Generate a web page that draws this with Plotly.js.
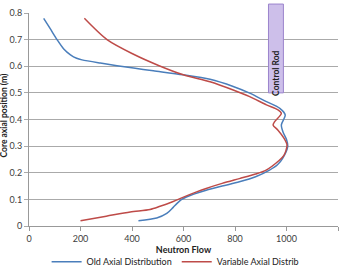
<!DOCTYPE html>
<html>
<head>
<meta charset="utf-8">
<script src="https://cdn.plot.ly/plotly-3.0.1.min.js"></script>
<style>
  html, body { margin: 0; padding: 0; background: #fff; }
  #chart { width: 346px; height: 269px; }
</style>
</head>
<body>
<div id="chart"></div>
<script>
// Old axial flux distribution: neutron flow vs core axial position (m)
const oldFlow = [57, 83, 109, 135, 161, 185, 206, 277, 406, 483, 599, 703, 793, 857, 922, 974, 995, 980, 986, 1000, 1005, 985, 965, 934, 880, 817, 750, 688, 611, 590, 574, 560, 535, 496, 425];
const oldPos  = [0.78, 0.74, 0.70, 0.665, 0.643, 0.63, 0.624, 0.612, 0.593, 0.583, 0.568, 0.551, 0.524, 0.499, 0.467, 0.442, 0.417, 0.38, 0.354, 0.325, 0.30, 0.254, 0.23, 0.21, 0.185, 0.166, 0.15, 0.134, 0.109, 0.098, 0.084, 0.07, 0.047, 0.03, 0.02];

// Variable axial flux distribution
const varFlow = [215, 303, 406, 503, 599, 703, 793, 857, 922, 967, 980, 954, 948, 967, 990, 1002, 990, 970, 921, 880, 817, 750, 688, 651, 586, 550, 509, 470, 393, 300, 200];
const varPos  = [0.78, 0.70, 0.645, 0.603, 0.568, 0.542, 0.511, 0.486, 0.455, 0.436, 0.423, 0.392, 0.379, 0.36, 0.33, 0.304, 0.265, 0.245, 0.21, 0.195, 0.178, 0.16, 0.141, 0.128, 0.103, 0.088, 0.074, 0.062, 0.053, 0.037, 0.02];

const seriesNames = ['Old Axial Distribution', 'Variable Axial Distrib'];

// Control rod band: neutron-flow span and insertion depth (bottom of rod)
const rodFlow = [930, 988];
const rodBottom = 0.5;
const rodLabel = 'Control Rod';

const xTicks = [0, 200, 400, 600, 800, 1000, 1200];
const yTicks = [0, 0.1, 0.2, 0.3, 0.4, 0.5, 0.6, 0.7, 0.8];

const font = 'Lato, "Open Sans", sans-serif';

const traces = [
  {
    x: oldFlow, y: oldPos, name: seriesNames[0], type: 'scatter', mode: 'lines',
    line: { color: '#4A7EBB', width: 1.5, shape: 'spline', smoothing: 0.8 }
  },
  {
    x: varFlow, y: varPos, name: seriesNames[1], type: 'scatter', mode: 'lines',
    line: { color: '#BE4B48', width: 1.5, shape: 'spline', smoothing: 0.8 }
  }
];

const yMax = 0.8;
const layout = {
  width: 346, height: 269,
  margin: { l: 28.5, r: 7.5, t: 13.3, b: 43.3, autoexpand: false },
  paper_bgcolor: '#fff', plot_bgcolor: '#fff',
  font: { family: font, size: 9, color: '#404040' },
  showlegend: true,
  legend: {
    orientation: 'h', x: 0.057, xanchor: 'left', y: -0.10, yanchor: 'top',
    font: { family: font, size: 9, color: '#222' },
    itemwidth: 30, tracegroupgap: 0
  },
  xaxis: {
    range: [0, 1200], tickvals: xTicks, ticktext: xTicks.map(String),
    showgrid: false, zeroline: false,
    showline: true, linecolor: '#999', linewidth: 1,
    ticks: 'outside', ticklen: 4, tickcolor: '#999',
    title: { text: '<b>Neutron Flow</b>', font: { family: font, size: 9, color: '#222' }, standoff: 3 },
    fixedrange: true
  },
  yaxis: {
    range: [0, yMax], tickvals: yTicks, ticktext: yTicks.map(v => v === 0 ? '0' : v.toFixed(1)),
    showgrid: true, gridcolor: '#aaa', gridwidth: 1, zeroline: false,
    showline: true, linecolor: '#999', linewidth: 1,
    ticks: 'outside', ticklen: 4, tickcolor: '#aaa',
    fixedrange: true
  },
  shapes: [
    {
      type: 'rect', xref: 'x', yref: 'paper',
      x0: rodFlow[0], x1: rodFlow[1],
      y0: rodBottom / yMax, y1: 1.042,
      fillcolor: '#CDBFEA', line: { color: '#9B84CC', width: 1 }, layer: 'above'
    }
  ],
  annotations: [
    {
      xref: 'x', yref: 'paper',
      x: (rodFlow[0] + rodFlow[1]) / 2, y: (rodBottom / yMax + 1.042) / 2,
      text: '<b>' + rodLabel + '</b>', textangle: -90, showarrow: false,
      font: { family: font, size: 8.5, color: '#222' }
    },
    {
      // y-axis title placed beside the tick labels
      xref: 'paper', yref: 'paper', x: -0.08, y: 0.52,
      xanchor: 'center', yanchor: 'middle',
      text: '<b>Core axial position (m)</b>', textangle: -90, showarrow: false,
      font: { family: font, size: 8.5, color: '#222' }
    }
  ]
};

Plotly.newPlot('chart', traces, layout, { displayModeBar: false, staticPlot: true });
</script>
</body>
</html>
